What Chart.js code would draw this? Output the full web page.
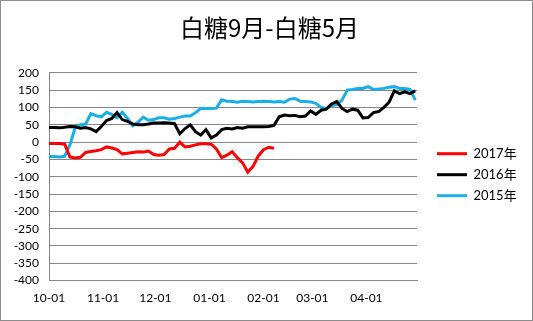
<!DOCTYPE html>
<html>
<head>
<meta charset="utf-8">
<script src="https://cdn.jsdelivr.net/npm/chart.js@4.4.1/dist/chart.umd.min.js"></script>
<style>
  html, body { margin: 0; padding: 0; background: #fff; }
  canvas { display: block; }
</style>
</head>
<body>
<canvas id="spread" width="533" height="321"></canvas>
<script>
// days counted from Oct 1 (sampled every 3 days)
const days = [0, 3, 6, 9, 12, 15, 18, 21, 24, 27, 30, 33, 36, 39, 42, 45, 48, 51, 54, 57,
  60, 63, 66, 69, 72, 75, 78, 81, 84, 87, 90, 93, 96, 99, 102, 105, 108, 111, 114, 117,
  120, 123, 126, 129, 132, 135, 138, 141, 144, 147, 150, 153, 156, 159, 162, 165, 168, 171, 174, 177,
  180, 183, 186, 189, 192, 195, 198, 201, 204, 207, 210];

const series2017 = [-4, -4, -4, -6, -43, -46, -44, -30, -27, -25, -22, -14, -17, -22, -34, -32, -30, -28, -29, -26,
  -36, -38, -36, -20, -18, 0, -14, -12, -8, -5, -5, -6, -20, -45, -38, -28, -45, -60, -87, -70,
  -40, -22, -15, -18];

const series2016 = [42, 42, 41, 43, 45, 44, 40, 42, 38, 30, 45, 62, 68, 85, 65, 60, 52, 50, 50, 52,
  55, 55, 56, 55, 53, 24, 39, 50, 30, 20, 36, 12, 20, 36, 40, 38, 42, 40, 44, 44,
  44, 44, 45, 48, 73, 78, 76, 77, 73, 75, 90, 80, 92, 95, 110, 117, 97, 88, 95, 92,
  70, 71, 85, 88, 100, 115, 148, 140, 145, 140, 148];

const series2015 = [-42, -42, -43, -41, -8, 42, 50, 52, 82, 76, 73, 86, 80, 70, 86, 68, 47, 57, 72, 63,
  65, 70, 70, 66, 68, 72, 75, 75, 85, 97, 97, 97, 98, 122, 118, 117, 115, 118, 117, 116,
  117, 118, 117, 116, 117, 115, 124, 126, 118, 117, 116, 112, 100, 97, 105, 108, 121, 150, 152, 155,
  155, 160, 152, 153, 155, 158, 160, 155, 155, 152, 121];

const tickDays = [0, 31, 61, 92, 123, 151, 182];
const tickLabels = ['10-01', '11-01', '12-01', '01-01', '02-01', '03-01', '04-01'];

const FONT = 'Lato, "Noto Sans CJK SC", sans-serif';
const GRID = '#878787';
const LEGEND_WIDTH = 98;

function toPoints(values) {
    return values.map((v, i) => ({ x: days[i], y: v }));
}

function lineDataset(label, values, color) {
    return {
        label: label,
        data: toPoints(values),
        borderColor: color,
        backgroundColor: color,
        borderWidth: 3,
        pointRadius: 0,
        tension: 0,
        fill: false
    };
}

// thin grey frame round the whole picture
const framePlugin = {
    id: 'frame',
    afterDraw(chart) {
        const ctx = chart.ctx;
        ctx.save();
        ctx.strokeStyle = '#8c8c8c';
        ctx.lineWidth = 1;
        ctx.strokeRect(0.5, 0.5, chart.width - 1, chart.height - 1);
        ctx.restore();
    }
};

// legend width fixed, text measuring of the CJK fallback is unreliable
const legendWidthPlugin = {
    id: 'legendWidth',
    beforeLayout(chart) {
        const legend = chart.legend;
        if (legend && !legend._fixedFit) {
            const fit = legend.fit;
            legend.fit = function () {
                fit.call(this);
                this.width = LEGEND_WIDTH;
            };
            legend._fixedFit = true;
        }
    }
};

function drawChart() {
    new Chart(document.getElementById('spread'), {
        type: 'line',
        data: {
            datasets: [
                lineDataset('2017年', series2017, '#ff0000'),
                lineDataset('2016年', series2016, '#000000'),
                lineDataset('2015年', series2015, '#1aaee8')
            ]
        },
        options: {
            responsive: false,
            animation: false,
            layout: { padding: { left: 12, right: 6, top: 0, bottom: 6 } },
            plugins: {
                title: {
                    display: true,
                    text: '白糖9月-白糖5月',
                    color: '#000',
                    font: { family: '"Noto Sans CJK SC", sans-serif', size: 24, weight: 'normal' },
                    padding: { top: 13, bottom: 31 }
                },
                legend: {
                    position: 'right',
                    title: {
                        // empty title only pushes the entries down
                        display: true,
                        text: '',
                        font: { size: 12 },
                        padding: { top: 20, bottom: 0 }
                    },
                    labels: {
                        color: '#000',
                        font: { family: FONT, size: 13 },
                        boxWidth: 30,
                        boxHeight: 3,
                        padding: 8,
                        generateLabels(chart) {
                            const items = Chart.defaults.plugins.legend.labels.generateLabels(chart);
                            items.forEach(item => { item.lineWidth = 0; });
                            return items;
                        }
                    }
                },
                tooltip: { enabled: false }
            },
            scales: {
                x: {
                    type: 'linear',
                    min: 0,
                    max: 211,
                    grid: { display: false, drawTicks: false },
                    border: { display: true, color: GRID },
                    afterBuildTicks(scale) {
                        scale.ticks = tickDays.map(v => ({ value: v }));
                    },
                    ticks: {
                        autoSkip: false,
                        maxRotation: 0,
                        padding: 10,
                        color: '#000',
                        font: { family: FONT, size: 12 },
                        callback: (value) => tickLabels[tickDays.indexOf(value)]
                    }
                },
                y: {
                    min: -400,
                    max: 200,
                    grid: { color: GRID, drawTicks: false },
                    border: { display: true, color: GRID },
                    afterFit(scale) { scale.width = 37; },
                    ticks: {
                        stepSize: 50,
                        autoSkip: false,
                        padding: 10,
                        color: '#000',
                        font: { family: FONT, size: 12 }
                    }
                },
                // spacer between plot and legend
                gap: {
                    position: 'right',
                    display: true,
                    grid: { display: false, drawTicks: false },
                    border: { display: false },
                    ticks: { display: false },
                    afterFit(scale) { scale.width = 12; }
                }
            }
        },
        plugins: [framePlugin, legendWidthPlugin]
    });
}

Promise.all([
    document.fonts.load('13px Lato', '2017'),
    document.fonts.load('13px "Noto Sans CJK SC"', '年白糖月')
]).catch(() => null).then(drawChart);
</script>
</body>
</html>
